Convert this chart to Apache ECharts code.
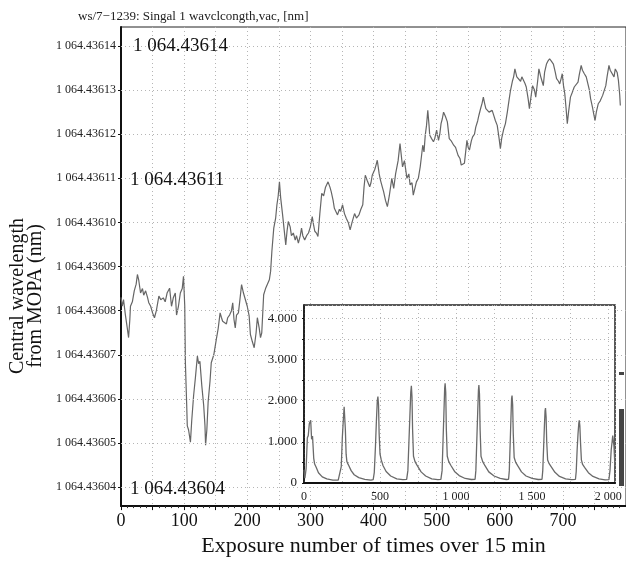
<!DOCTYPE html>
<html>
<head>
<meta charset="utf-8">
<script src="https://cdn.jsdelivr.net/npm/echarts@6/dist/echarts.min.js"></script>
<style>html,body{margin:0;padding:0;background:#fff}#c{width:626px;height:562px}</style>
</head>
<body>
<div id="c"></div>
<script>
// ---- DATA ----
// Main plot: central wavelength, stored as (lambda - 1064.436 nm) in units of 1e-5 nm
const BASE_LABEL = '1 064.436';
const exposureIndex = [0,2,4,7,10,12,14,15,18,21,24,26,28,31,34,36,39,42,44,47,50,53,56,60,63,67,70,73,77,80,83,86,88,91,94,97,99,101,102,104,105,107,110,112,115,118,121,123,125,128,131,133,134,136,138,141,143,147,151,154,157,159,161,164,167,169,172,175,177,179,181,183,186,188,191,194,197,200,203,205,208,211,214,216,219,221,223,226,229,232,235,237,239,242,245,247,249,251,253,256,258,261,263,265,268,270,273,276,278,281,284,286,288,291,294,297,300,303,305,307,310,312,315,318,321,324,328,331,333,336,338,341,343,346,348,351,354,357,360,363,366,370,373,377,380,383,385,387,390,394,396,398,402,404,406,409,411,414,416,419,422,425,429,432,435,439,442,446,449,453,456,458,461,463,466,468,471,474,476,478,480,482,484,486,488,489,492,495,497,500,503,505,507,509,511,514,517,520,523,527,530,534,537,539,542,544,546,548,550,552,555,557,560,562,565,567,570,572,574,576,578,581,583,585,588,590,593,596,599,601,603,606,609,612,615,617,620,622,624,627,630,633,635,638,640,642,645,647,650,652,655,657,660,662,665,667,669,671,674,676,679,682,685,688,690,693,695,697,699,701,703,705,707,709,712,715,718,721,724,726,729,731,734,737,740,742,744,747,749,751,753,756,759,763,765,768,770,773,775,778,781,783,786,788,790,791];
const wavelengthOffset = [8.3,8.1,8.25,7.9,7.6,7.39,7.8,8.1,8.2,8.45,8.6,8.82,8.7,8.4,8.5,8.35,8.45,8.3,8.18,8.1,7.95,7.84,8.0,8.33,8.25,8.29,8.2,8.4,8.51,8.1,8.3,8.4,7.9,8.1,8.4,8.5,8.78,8.1,6.82,5.9,5.39,5.3,5.02,5.5,6.07,6.5,6.97,6.8,6.85,6.3,5.85,5.4,4.95,5.3,5.92,6.4,6.82,7.0,7.35,7.6,7.95,7.85,7.76,7.8,7.7,7.84,7.9,8.0,8.18,7.8,7.61,7.9,7.95,8.2,8.59,8.4,8.4,8.1,7.88,7.46,7.3,7.16,7.5,7.84,7.6,7.39,7.5,8.36,8.5,8.51,8.7,8.89,9.34,9.87,10.1,10.4,10.6,10.92,10.55,10.17,10.2,9.49,9.8,10.02,9.9,9.7,9.76,9.6,9.7,9.53,9.7,9.87,9.7,9.6,9.7,9.76,9.9,10.13,9.95,9.8,9.75,9.68,10.2,10.66,10.6,10.8,10.92,10.8,10.7,10.5,10.32,10.3,10.17,10.3,10.25,10.4,10.2,10.09,10.0,9.83,10.0,10.2,10.1,10.17,10.3,10.4,10.8,11.07,10.95,10.81,10.9,11.07,11.2,11.3,11.41,11.1,10.96,10.8,10.7,10.5,10.36,10.6,11.0,10.77,11.1,11.4,11.79,11.26,11.4,11.0,11.1,10.85,10.9,10.62,10.8,10.92,11.0,11.26,11.5,11.75,11.6,11.98,12.2,12.54,12.2,11.98,11.9,11.83,11.9,12.09,11.86,12.0,12.24,12.35,12.5,12.4,12.28,11.9,11.85,11.75,11.7,11.52,11.45,11.3,11.3,11.34,11.6,11.86,11.7,11.64,11.85,11.94,12.0,12.16,12.3,12.43,12.6,12.7,12.84,12.7,12.58,12.6,12.5,12.54,12.54,12.45,12.31,12.2,11.9,11.67,11.9,12.1,12.24,12.5,12.8,12.99,13.2,13.3,13.48,13.3,13.26,13.2,13.3,13.26,13.15,13.07,12.8,12.58,12.9,13.1,13.0,12.84,13.2,13.48,13.3,13.2,13.1,13.4,13.59,13.65,13.71,13.65,13.59,13.4,13.26,13.2,13.14,13.25,13.37,13.1,12.92,12.6,12.24,12.5,12.84,12.95,13.07,13.1,13.18,13.35,13.56,13.45,13.37,13.3,13.29,13.0,12.8,12.6,12.45,12.31,12.5,12.69,12.75,12.88,12.9,13.1,13.3,13.56,13.45,13.41,13.3,13.48,13.4,13.22,12.9,12.65];
const yTickValues = [4,5,6,7,8,9,10,11,12,13,14];
const xTickLabels = [0,100,200,300,400,500,600,700];

// Inset: signal counts vs index
const insetIndex = [0,6,14,22,28,35,44,50,56,64,70,80,95,120,150,190,225,235,245,252,258,264,268,272,277,282,288,295,310,330,360,400,440,455,462,470,476,482,486,490,494,500,508,520,540,570,610,650,675,683,690,696,702,706,710,714,720,730,745,770,800,840,880,900,908,914,920,925,928,932,936,942,952,965,990,1020,1060,1100,1125,1130,1136,1142,1147,1150,1154,1158,1164,1175,1190,1215,1250,1290,1330,1345,1350,1356,1361,1365,1368,1372,1376,1382,1392,1405,1430,1460,1500,1540,1565,1570,1576,1581,1585,1588,1592,1596,1602,1612,1625,1650,1680,1720,1760,1785,1790,1796,1802,1807,1810,1814,1818,1824,1832,1845,1870,1900,1940,1980,2005,2012,2020,2026,2030,2034,2038,2042,2045];
const insetCounts = [320,120,350,1100,1150,1440,1520,1060,1140,600,460,380,250,150,100,70,70,90,400,1100,1500,1850,1830,1300,700,520,470,420,300,200,130,90,70,80,250,900,1500,2000,2100,1900,1200,700,560,420,280,170,100,80,90,300,1000,1600,2200,2360,2100,1300,650,520,420,270,170,100,80,90,300,1000,1700,2300,2420,2200,1300,650,520,430,280,180,110,85,90,300,1000,1700,2250,2380,2150,1300,650,520,420,270,170,110,85,90,300,1000,1600,2050,2120,1900,1200,620,500,420,270,170,110,85,90,300,900,1400,1750,1820,1600,1000,560,470,400,260,160,100,80,90,280,800,1200,1450,1520,1380,1000,560,450,380,250,160,100,75,80,300,800,1000,1150,1160,900,600,400];

// ---- CHART ----
const SERIF = '"Liberation Serif","DejaVu Serif",serif';
const chart = echarts.init(document.getElementById('c'), null, {renderer: 'canvas'});
const mainData = exposureIndex.map((x, i) => [x, wavelengthOffset[i]]);
const insetData = insetIndex.map((x, i) => [x, insetCounts[i]]);
const fmtThousandsSpace = v => { const s = String(v); return s.length > 3 ? s.slice(0, s.length - 3) + ' ' + s.slice(-3) : s; };
const dotted = {type: [1, 3], color: '#b5b5b5', width: 1};

const option = {
  backgroundColor: '#fff',
  animation: false,
  title: {
    text: 'ws/7−1239: Singal 1 wavclcongth,vac, [nm]',
    left: 73, top: 5,
    textStyle: {fontFamily: SERIF, fontSize: 13, fontWeight: 'normal', color: '#222'}
  },
  grid: [
    {left: 121, right: -7, top: 27, bottom: 54, show: true, borderColor: '#222', borderWidth: 1, z: 0},
    {left: 304, top: 305, width: 311, height: 178, show: true, backgroundColor: '#fff', borderColor: '#222', borderWidth: 1.5, z: 10}
  ],
  xAxis: [
    {
      gridIndex: 0, type: 'value', min: 0, max: 800, interval: 50,
      axisLine: {lineStyle: {color: '#111', width: 2}},
      axisTick: {length: 4, lineStyle: {color: '#111'}},
      minorTick: {show: true, splitNumber: 5, length: 2, lineStyle: {color: '#333'}},
      axisLabel: {formatter: v => xTickLabels.includes(v) ? String(v) : '', fontFamily: SERIF, fontSize: 18, color: '#111', margin: 6, showMaxLabel: false},
      splitLine: {show: true, lineStyle: dotted},
      name: 'Exposure number of times over 15 min', nameLocation: 'middle', nameGap: 28,
      nameTextStyle: {fontFamily: SERIF, fontSize: 22, color: '#111'}
    },
    {
      gridIndex: 1, type: 'value', min: 0, max: 2045, interval: 250, z: 12,
      axisLine: {lineStyle: {color: '#111', width: 2}},
      axisTick: {show: false},
      axisLabel: {formatter: v => (v % 500 === 0) ? fmtThousandsSpace(v) : '', fontFamily: SERIF, fontSize: 12, color: '#222', margin: 8, showMaxLabel: false},
      splitLine: {show: true, lineStyle: dotted}
    }
  ],
  yAxis: [
    {
      gridIndex: 0, type: 'value', min: 3.57, max: 14.43,
      axisLine: {show: true, lineStyle: {color: '#111', width: 2}},
      axisTick: {show: true, length: 3, customValues: yTickValues, lineStyle: {color: '#111'}},
      axisLabel: {customValues: yTickValues, formatter: v => BASE_LABEL + (Math.round(v) < 10 ? '0' : '') + Math.round(v), fontFamily: SERIF, fontSize: 12, color: '#222', margin: 5},
      splitLine: {show: false}
    },
    {
      gridIndex: 1, type: 'value', min: 0, max: 4320, interval: 500, z: 12,
      axisLine: {show: true, lineStyle: {color: '#111', width: 1.5}},
      axisTick: {show: true, length: 2, lineStyle: {color: '#111'}},
      axisLabel: {formatter: v => (v % 1000 === 0) ? (v === 0 ? '0' : (v / 1000) + '.000') : '', fontFamily: SERIF, fontSize: 13, color: '#222', margin: 7, showMaxLabel: false},
      splitLine: {show: true, lineStyle: dotted}
    }
  ],
  series: [
    {
      type: 'line', xAxisIndex: 0, yAxisIndex: 0, data: mainData, showSymbol: false, z: 2,
      lineStyle: {color: '#666', width: 1.2},
      markLine: {
        silent: true, symbol: 'none', label: {show: false},
        lineStyle: dotted,
        data: yTickValues.map(v => ({yAxis: v}))
      }
    },
    {
      type: 'line', xAxisIndex: 1, yAxisIndex: 1, data: insetData, showSymbol: false, z: 13,
      lineStyle: {color: '#6a6a6a', width: 1.3}
    }
  ],
  graphic: [
    {type: 'text', left: 133, top: 37, z: 20, style: {text: '1 064.43614', font: '19px ' + SERIF, fill: '#111'}},
    {type: 'text', left: 130, top: 171, z: 20, style: {text: '1 064.43611', font: '19px ' + SERIF, fill: '#111'}},
    {type: 'text', left: 130, top: 480, z: 20, style: {text: '1 064.43604', font: '19px ' + SERIF, fill: '#111'}},
    {type: 'text', x: 27, y: 296, rotation: Math.PI / 2, z: 20,
     style: {text: 'Central wavelength\nfrom MOPA (nm)', font: '20px ' + SERIF, fill: '#111', align: 'center', verticalAlign: 'middle', lineHeight: 18}},
    {type: 'rect', shape: {x: 619, y: 409, width: 5, height: 77}, style: {fill: '#444'}, z: 20},
    {type: 'rect', shape: {x: 619, y: 372, width: 5, height: 3}, style: {fill: '#444'}, z: 20}
  ]
};
chart.setOption(option);
</script>
</body>
</html>
